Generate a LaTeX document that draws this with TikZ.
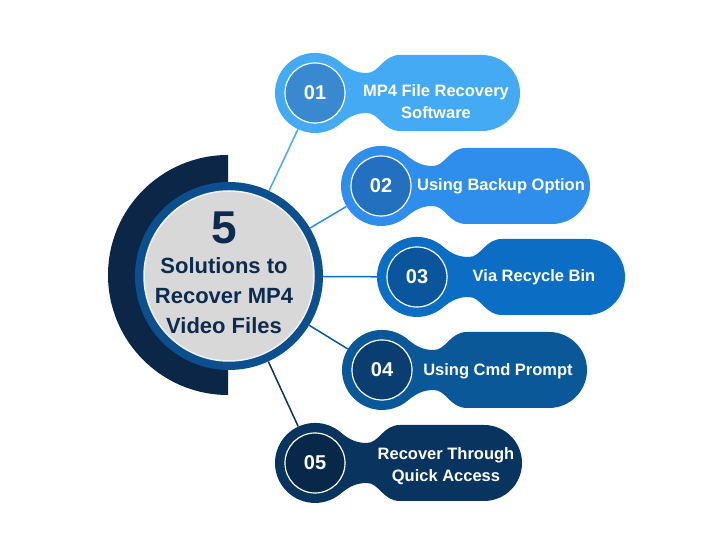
\documentclass[tikz,border=0pt]{standalone}
\usepackage{fontspec}
\setmainfont{Liberation Sans}
\definecolor{navy}{HTML}{0B2646}
\definecolor{ringc}{HTML}{0B4F8F}
\definecolor{grayc}{HTML}{D8D8D8}
\definecolor{ctext}{HTML}{0D2B4E}
\definecolor{outA}{HTML}{45AAF4}\definecolor{inA}{HTML}{3889CF}
\definecolor{outB}{HTML}{2F8DEB}\definecolor{inB}{HTML}{236FC0}
\definecolor{outC}{HTML}{0B6EC4}\definecolor{inC}{HTML}{0A559C}
\definecolor{outD}{HTML}{0A5897}\definecolor{inD}{HTML}{0B3E70}
\definecolor{outE}{HTML}{08345F}\definecolor{inE}{HTML}{072848}
\newcommand\mypill[4]{%
\fill[#4] ({#1+25.7},{#2+30.6}) .. controls ({#1+34.9},{#2+22.9}) and ({#1+42},{#2+20}) .. ({#1+52},{#2+20}) .. controls ({#1+64},{#2+20}) and ({#1+68},{#2+38}) .. ({#1+85},{#2+38}) -- ({#3-38},{#2+38}) arc[start angle=90,end angle=-90,radius=38] -- ({#1+85},{#2-38}) .. controls ({#1+68},{#2-38}) and ({#1+64},{#2-20}) .. ({#1+52},{#2-20}) .. controls ({#1+42},{#2-20}) and ({#1+34.9},{#2-22.9}) .. ({#1+25.7},{#2-30.6}) arc[start angle=-50,end angle=-310,radius=40] -- cycle;}
\tikzset{
  pnode/.style={circle,minimum size=80pt,inner sep=0pt},
  numtxt/.style={text=white,font=\fontsize{20}{24}\selectfont\bfseries},
  ptxt/.style={text=white,font=\fontsize{16.5}{22}\selectfont\bfseries,align=center,inner sep=0pt},
  ctxt/.style={text=ctext,font=\fontsize{22}{30}\selectfont\bfseries,align=center,inner sep=0pt},
  conn/.style={line width=1.5pt},
  innerc/.style={draw=white,line width=1.2pt}
}
\begin{document}
\begin{tikzpicture}[x=1pt,y=1pt]
\useasboundingbox (0,0) rectangle (720,540);
% central
\fill[navy] (228,385) arc[start angle=90,end angle=270,radius=120] -- cycle;
\node[circle,fill=ringc,minimum size=188pt,inner sep=0pt] (c) at (229,264) {};
\fill[grayc,draw=white!90!gray,line width=1.5pt] (229,264) circle (85);
\node[ctxt,font=\fontsize{46}{50}\selectfont\bfseries] (five) at (224,312) {5};
\node[ctxt] (t1) at (224,244) {Solutions to\\Recover MP4\\Video Files};
% pill anchors
\node[pnode] (p1) at (315,447) {};
\node[pnode] (p2) at (381,354) {};
\node[pnode] (p3) at (417,263) {};
\node[pnode] (p4) at (382,170) {};
\node[pnode] (p5) at (315,77) {};
% connectors
\draw[conn,color=outA] (c) -- (p1);
\draw[conn,color=outB] (c) -- (p2);
\draw[conn,color=outC] (c) -- (p3);
\draw[conn,color=outD] (c) -- (p4);
\draw[conn,color=outE] (c) -- (p5);
% pills
\mypill{315}{447}{520}{outA}
\mypill{381}{354}{590}{outB}
\mypill{417}{263}{625}{outC}
\mypill{382}{170}{587}{outD}
\mypill{315}{77}{522}{outE}
\filldraw[fill=inA,innerc] (315,447) circle (30);
\filldraw[fill=inB,innerc] (381,354) circle (30);
\filldraw[fill=inC,innerc] (417,263) circle (30);
\filldraw[fill=inD,innerc] (382,170) circle (30);
\filldraw[fill=inE,innerc] (315,77) circle (30);
\node[numtxt] (n1) at (p1) {01};
\node[numtxt] (n2) at (p2) {02};
\node[numtxt] (n3) at (p3) {03};
\node[numtxt] (n4) at (p4) {04};
\node[numtxt] (n5) at (p5) {05};
\node[ptxt] (l1) at (436,438) {MP4 File Recovery\\Software};
\node[ptxt] (l2) at (501,354) {Using Backup Option};
\node[ptxt] (l3) at (534,263) {Via Recycle Bin};
\node[ptxt] (l4) at (498,169) {Using Cmd Prompt};
\node[ptxt] (l5) at (446,73.5) {Recover Through\\Quick Access};
\end{tikzpicture}
\end{document}
